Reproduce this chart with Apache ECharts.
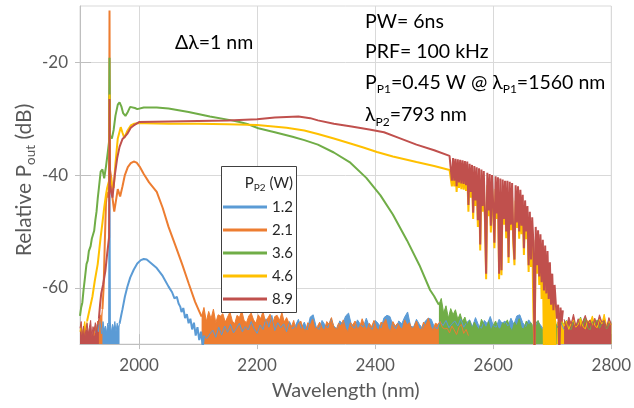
<!DOCTYPE html>
<html><head><meta charset="utf-8">
<script src="https://cdn.jsdelivr.net/npm/echarts@6/dist/echarts.min.js"></script>
<style>html,body{margin:0;padding:0;background:#fff}#c{width:634px;height:408px}</style>
</head><body><div id="c"></div>
<script>
// ---------------- data ----------------
const seriesNames = ['1.2', '2.1', '3.6', '4.6', '8.9'];
const xTicks = [2000, 2200, 2400, 2600, 2800];
const yTicks = [-60, -40, -20];

// P = 1.2 W (blue)
const blueFloorLeftStart = 1927, blueFloorLeftStep = 2;
const blueFloorLeft = [-68.0,-66.5,-67.8,-65.7,-67.0,-68.2,-66.0,-67.5,-66.8,-68.0,-66.3,-67.0,-66.2,-68.0,-66.5,-67.3,-66.0,-67.8,-66.3,-67.1,-66.4];
const blueSpike = [[1949.3,-66.5],[1950,-42],[1950.7,-66.8]];
const blueHump = [[1967,-66.4],[1970,-64.8],[1972,-63.8],[1976,-61.6],[1980,-59.9],[1985,-58.2],[1991,-56.8],[1997,-55.7],[2003,-55.1],[2008,-54.9],[2013,-55.0],[2020,-55.6],[2030,-56.5],[2040,-57.9],[2050,-59.8],[2056,-60.8],[2060,-61.9],[2064,-61.6],[2067,-62.8],[2070,-63.4],[2072,-64.3],[2075,-63.6],[2078,-65.4],[2081,-64.7],[2084,-66.3],[2087,-65.5],[2090,-67.4],[2093,-66.2],[2096,-68.5],[2099,-67.0],[2102,-69.3],[2105,-67.8],[2108,-70.5],[2110,-68.5]];
const blueFloorStart = 2110, blueFloorStep = 5;
const blueFloor = [-68.5,-69.0,-68.2,-67.5,-68.8,-67.0,-68.4,-66.8,-67.9,-66.5,-68.0,-67.2,-66.3,-67.8,-66.9,-67.5,-66.0,-67.3,-68.1,-66.6,-67.4,-65.5,-67.0,-64.9,-67.6,-66.2,-67.1,-66.4,-67.8,-66.0,-67.3,-66.7,-65.6,-67.2,-66.1,-67.5,-65.2,-64.8,-66.9,-67.4,-65.8,-66.6,-67.1,-65.5,-66.8,-67.3,-65.9,-66.4,-65.0,-64.5,-66.7,-67.2,-65.7,-66.5,-67.0,-65.4,-66.9,-67.4,-65.8,-66.3,-67.1,-65.3,-64.9,-65.1,-66.6,-67.3,-65.9,-66.4,-65.2,-64.3,-66.8,-67.0,-65.6,-66.5,-67.2,-65.9,-65.4,-65.6,-66.9,-67.3,-66.0,-66.7,-65.8,-67.1,-66.4,-65.9,-66.8,-65.5,-67.0,-66.2,-65.7,-66.9,-65.3,-66.6,-67.2,-65.8,-66.4,-65.1,-66.7,-67.0,-65.6,-66.3,-65.9,-66.8,-65.4,-66.5,-65.0,-64.8,-66.2,-66.9,-65.7,-66.4,-67.1,-65.9,-66.6,-67.3,-66.0,-66.8,-67.2,-66.5,-67.0,-66.3,-67.4];

// P = 2.1 W (orange)
const orangeFloorLeftStart = 1924, orangeFloorLeftStep = 2;
const orangeFloorLeft = [-68.5,-66.8,-67.5,-65.9,-66.5,-64.8,-65.5,-63.8];
const orangeCurve = [[1938,-63.8],[1940,-60],[1942,-52],[1944,-45],[1946,-43],[1948,-44],[1949.3,-43.5],[1950,-10.8],[1950.7,-39],[1953,-40.5],[1955,-44],[1958,-46.5],[1961,-44.5],[1964,-42.5],[1968,-43.8],[1972,-42],[1976,-40],[1981,-38.6],[1986,-37.9],[1991,-37.6],[1996,-37.8],[2001,-38.5],[2008,-39.8],[2017,-41.3],[2030,-43.0],[2040,-45.8],[2050,-49.2],[2062,-52.6],[2073,-55.8],[2084,-59.2],[2095,-62.5],[2102,-64.2],[2106,-65.1]];
const orangeFloorStart = 2106, orangeFloorStep = 4;
const orangeFloor = [-65.1,-63.5,-66.0,-64.2,-65.5,-63.8,-66.2,-64.8,-65.0,
  -64.6,-66.1,-65.2,-64.3,-65.9,-66.4,-64.9,-65.3,-64.1,-65.8,-66.2,-65.0,-64.5,-65.7,-66.3,-64.8,-65.5,-64.2,-66.0,-65.4,-64.7,-66.5,-65.1,-64.9,-65.8,-64.4,-66.1,-65.3,
  -66.3,-67.0,-65.8,-67.5,-66.4,-65.9,-67.2,-67.7,-66.2,-66.7,-65.6,-67.3,-66.9,-66.1,-67.1,-67.6,-66.0,-66.5,-65.3,-67.0,-67.4,-66.3,-66.8,-65.7,-67.2,-67.8,-66.2,-66.6,-65.9,-67.3,-66.9,-65.5,-66.7,-67.5,-66.3,-66.9,-65.8,-67.1,-67.6,-66.1,-66.4,-65.6,-67.2,-67.7,-66.0,-66.8,-66.3,-67.0,-67.4,-65.7,-66.6,-66.2,-67.3,-66.9,-65.9,-67.2,-67.5,-66.1,-66.7,-65.4,-66.9,-67.6,-66.3,-66.5,-66.0,-67.1,-67.3,
  -67.2,-68.0,-66.8,-67.5,-68.3,-67.0,-66.5,-68.1,-67.4,-68.5];

// P = 3.6 W (green)
const greenCurve = [[1900,-65.0],[1902,-63.5],[1904,-62.6],[1906,-60.4],[1908,-58.6],[1911,-55.8],[1913,-55.2],[1915,-53.5],[1918,-52.6],[1920,-51.3],[1922,-51.0],[1924,-49.9],[1926,-48.0],[1928,-46.5],[1930,-44.2],[1932,-42.3],[1935,-39.4],[1938,-39.0],[1941,-40.6],[1944,-38.5],[1947,-36],[1949.3,-34],[1950,-19.2],[1950.7,-33],[1954,-33.5],[1957,-32],[1960,-29.5],[1964,-27.5],[1967,-27.1],[1970,-27.8],[1973,-29],[1977,-29.5],[1981,-28.8],[1985,-27.9],[1988,-27.7],[1993,-28.1],[1997,-28.3],[2008,-28.0],[2030,-28.0],[2050,-28.2],[2084,-28.8],[2120,-29.6],[2157,-30.3],[2170,-30.6],[2185,-31.0],[2202,-31.7],[2230,-32.4],[2260,-33.2],[2280,-33.8],[2303,-34.6],[2330,-36.0],[2358,-37.8],[2385,-40.5],[2409,-43.6],[2430,-47.0],[2454,-51.6],[2475,-56.0],[2493,-60.4],[2500,-61.5],[2505,-62.5],[2508,-63.0]];
const greenFloorStart = 2508, greenFloorStep = 4;
const greenFloor = [-63.0,-61.9,-64.5,-63.2,-65.4,-63.7,-64.8,-63.9,-65.6,-64.6,-66.0,-65.2,
  -66.6,-65.8,-67.3,-66.1,-66.9,-67.5,-65.6,-66.4,-67.2,-66.0,-67.6,-66.7,-65.9,-67.1,-67.4,-66.2,-66.5,-65.7,-67.0,-67.7,-66.1,-66.8,-65.5,-67.2,-67.3,-65.9,-66.6,-66.2,-67.5,-66.3,-65.8,-67.1,-67.6,-66.0,-66.7,-65.1,-66.4,-65.6,-66.9,-67.3,-66.1,-66.5,-65.8,-67.2,-67.4,-65.9,-66.7,-66.2,-65.2,-66.8,-65.4,-67.1,-67.5,-66.0,-66.6,-65.7,-67.2,-66.3,-65.9,-67.3,-66.5,-66.1];

// P = 4.6 W (yellow)
const yellowFloorLeftStart = 1900, yellowFloorLeftStep = 2;
const yellowFloorLeft = [-67.8,-66.5,-68.3,-67.2,-66.0,-67.5,-65.9];
const yellowCurve = [[1912,-65.9],[1913,-65.7],[1917,-63.5],[1921,-61.6],[1925,-58.8],[1930,-55.8],[1935,-51.0],[1938,-48.5],[1941,-45.8],[1944,-43.5],[1946,-42.3],[1948,-41.5],[1949.3,-41],[1950,-25.7],[1950.7,-40],[1954,-41.5],[1957,-42.3],[1960,-38],[1964,-33.5],[1969,-31.5],[1972,-32.5],[1975,-33.4],[1980,-32.2],[1986,-31.2],[1992,-30.9],[1997,-30.8],[2010,-30.8],[2050,-30.9],[2100,-30.9],[2150,-31.0],[2200,-31.1],[2250,-31.6],[2280,-32.1],[2303,-32.7],[2330,-33.5],[2358,-34.4],[2380,-35.1],[2403,-35.9],[2430,-36.7],[2470,-37.7],[2500,-38.4],[2526,-39.1]];
const yellowRippleStart = 2528, yellowRippleStep = 2;
const yellowRipple = [-39.0,-42.0,-39.1,-42.0,-39.2,-43.0,-39.3,-42.3,-39.4,-42.5,-39.5,-42.6,-39.6,-42.8,-39.8,-46.5,-40.0,-44.0,-40.3,-47.8,-40.5,-45.5,-40.7,-49.2,-41.0,-53.4,-41.2,-46.5,-41.5,-48.2,-58.5,-41.8,-47.3,-42.0,-50.2,-42.2,-46.5,-53.0,-42.5,-47.8,-42.7,-58.5,-43.0,-57.8,-43.2,-48.8,-43.4,-51.2,-43.5,-55.6,-43.7,-49.8,-44.0,-52.2,-56.0,-44.5,-49.4,-44.8,-51.3,-45.3,-50.5,-46.0,-54.2,-47.0,-51.4,-48.0,-57.2,-49.0,-56.3,-50.0,-64.0,-72,-51.5,-57.5,-52.2,-59.5,-53.0,-62.0,-54.0,-72,-55.0,-72,-56.5,-72,-58.5,-72,-60.5,-72,-62.5,-72];
const yellowFloorStart = 2708, yellowFloorStep = 4;
const yellowFloor = [-66.0,-67.2,-65.5,-66.8,-65.9,-67.4,-66.3,-65.7,-67.0,-66.5,-65.4,-66.9,-67.3,-65.8,-66.2,-65.0,-66.7,-67.1,-65.6,-66.4,-64.7,-66.8,-65.9,-66.6];

// P = 8.9 W (red)
const redFloorLeftStart = 1900, redFloorLeftStep = 2;
const redFloorLeft = [-67.2,-66.0,-68.5,-66.8,-69.0,-67.5,-66.3,-68.2,-67.0,-65.8,-68.7,-66.9,-67.6,-66.2,-68.0,-66.5,-65.5];
const redCurve = [[1932,-65.5],[1934,-63.0],[1936,-61.0],[1939,-59.5],[1943,-57],[1946,-54],[1949.3,-51],[1950,-26.5],[1950.7,-42],[1953,-43],[1955,-44],[1959,-40],[1963,-37],[1967,-35],[1972,-33.6],[1976,-33.2],[1980,-32.7],[1986,-31.6],[1991,-31.2],[2000,-30.6],[2050,-30.5],[2100,-30.4],[2150,-30.3],[2200,-30.1],[2230,-29.8],[2250,-29.7],[2270,-29.6],[2290,-29.9],[2303,-30.3],[2330,-30.9],[2360,-31.4],[2390,-31.9],[2415,-32.4],[2440,-33.4],[2470,-34.6],[2500,-35.6],[2526,-36.6]];
const redRippleStart = 2528, redRippleStep = 2;
const redRipple = [-36.9,-41.0,-37.0,-41.0,-37.1,-42.0,-37.2,-41.3,-37.3,-41.5,-37.4,-41.6,-37.5,-41.8,-37.6,-45.3,-38.0,-43.0,-38.2,-46.7,-38.4,-44.5,-38.6,-48.0,-38.8,-52.3,-39.0,-45.5,-39.3,-47.0,-57.5,-39.6,-46.3,-39.8,-49.0,-40.0,-45.5,-52.0,-40.2,-46.8,-40.4,-57.5,-40.6,-56.9,-40.8,-47.8,-41.0,-50.0,-41.0,-54.6,-41.2,-48.8,-41.4,-51.0,-55.0,-41.8,-48.4,-42.0,-50.0,-42.6,-49.0,-43.5,-53.0,-44.5,-50.0,-45.5,-56.0,-46.5,-55.0,-47.5,-52.0,-72,-49.2,-56.0,-49.8,-58.0,-50.5,-59.0,-51.5,-60.5,-52.5,-61.0,-53.5,-62.0,-55.5,-63.0,-57.5,-64.0,-59.5,-62.8,-65.5,-63.0,-72,-63.5,-66.0,-64.0];
const redFloorStart = 2720, redFloorStep = 4;
const redFloor = [-65.6,-67.0,-65.2,-66.4,-64.7,-66.8,-65.5,-67.2,-65.9,-64.9,-66.3,-65.7,-67.0,-65.4,-66.6,-64.8,-66.1,-65.8,-67.1,-65.3,-66.5];

// ---------------- build ----------------
const colors = ['#5B9BD5', '#ED7D31', '#70AD47', '#FFC000', '#C0504D'];
const FONT = 'Lato, "Open Sans", "DejaVu Sans", sans-serif';
function sampled(start, step, values) { return values.map((v, i) => [start + i * step, v]); }
function line(idx, data, w) {
  return { name: seriesNames[idx], type: 'line', data: data, showSymbol: false, symbol: 'none',
    lineStyle: { color: colors[idx], width: w || 2 }, itemStyle: { color: colors[idx] },
    animation: false, silent: true, clip: true };
}
function floor(idx, data) {
  const s = line(idx, data, 1);
  s.areaStyle = { color: colors[idx], opacity: 1, origin: 'start' };
  return s;
}
const series = [
  floor(0, sampled(blueFloorLeftStart, blueFloorLeftStep, blueFloorLeft)),
  line(0, blueSpike), line(0, blueHump),
  floor(0, sampled(blueFloorStart, blueFloorStep, blueFloor)),
  floor(1, sampled(orangeFloorLeftStart, orangeFloorLeftStep, orangeFloorLeft)),
  line(1, orangeCurve),
  floor(1, sampled(orangeFloorStart, orangeFloorStep, orangeFloor)),
  line(2, greenCurve),
  floor(2, sampled(greenFloorStart, greenFloorStep, greenFloor)),
  floor(3, sampled(yellowFloorLeftStart, yellowFloorLeftStep, yellowFloorLeft)),
  line(3, yellowCurve.concat(sampled(yellowRippleStart, yellowRippleStep, yellowRipple)), 2),
  floor(3, sampled(yellowFloorStart, yellowFloorStep, yellowFloor)),
  floor(4, sampled(redFloorLeftStart, redFloorLeftStep, redFloorLeft)),
  line(4, redCurve.concat(sampled(redRippleStart, redRippleStep, redRipple)), 2),
  floor(4, sampled(redFloorStart, redFloorStep, redFloor))
];

function txt(x, y, text) {
  return { type: 'text', x: x, y: y, z: 6, silent: true, style: {
    text: text, verticalAlign: 'middle', align: 'left',
    rich: {
      m: { fontSize: 19.5, fontFamily: FONT, fill: '#000', lineHeight: 26 },
      s: { fontSize: 12, fontFamily: FONT, fill: '#000', lineHeight: 12, verticalAlign: 'bottom' }
    } } };
}

const chart = echarts.init(document.getElementById('c'), null, { renderer: 'canvas' });
chart.setOption({
  animation: false,
  backgroundColor: '#fff',
  grid: { left: 80, right: 18, top: 6, bottom: 61, show: true, borderColor: '#d9d9d9', borderWidth: 1, containLabel: false },
  xAxis: [{
    type: 'value', min: 1900, max: 2800, position: 'bottom',
    name: 'Wavelength (nm)', nameLocation: 'middle', nameGap: 30,
    nameTextStyle: { fontSize: 20, fontFamily: FONT, color: '#595959', lineHeight: 24 },
    axisLine: { show: true, lineStyle: { color: '#bfbfbf', width: 1 } },
    axisTick: { show: true, inside: true, length: 10, customValues: xTicks, lineStyle: { color: '#bfbfbf' } },
    axisLabel: { customValues: xTicks, formatter: v => String(v), fontSize: 17, fontFamily: FONT, color: '#595959', margin: 13 },
    splitLine: { show: true, lineStyle: { color: '#d9d9d9', width: 1 } }
  }, {
    type: 'value', min: 1900, max: 2800, position: 'bottom', offset: 0,
    axisLine: { show: false }, axisLabel: { show: false }, splitLine: { show: false },
    axisTick: { show: true, inside: false, length: 5, customValues: xTicks, lineStyle: { color: '#bfbfbf' } }
  }],
  yAxis: [{
    type: 'value', min: -70, max: -10, position: 'left',
    axisLine: { show: true, lineStyle: { color: '#bfbfbf', width: 1 } },
    axisTick: { show: true, inside: true, length: 11, customValues: yTicks, lineStyle: { color: '#bfbfbf' } },
    axisLabel: { customValues: yTicks, formatter: v => String(v), fontSize: 17, fontFamily: FONT, color: '#595959', margin: 12 },
    splitLine: { show: true, lineStyle: { color: '#d9d9d9', width: 1 } }
  }, {
    type: 'value', min: -70, max: -10, position: 'left', offset: 0,
    axisLine: { show: false }, axisLabel: { show: false }, splitLine: { show: false },
    axisTick: { show: true, inside: false, length: 5, customValues: yTicks, lineStyle: { color: '#bfbfbf' } }
  }],
  legend: {
    data: seriesNames.map(n => ({ name: n, icon: 'rect' })),
    orient: 'vertical', left: 223, top: 198, padding: 0, itemGap: 5,
    itemWidth: 44, itemHeight: 3, z: 5, selectedMode: false,
    textStyle: { fontSize: 15, fontFamily: FONT, color: '#262626', lineHeight: 18 }
  },
  graphic: [
    { type: 'rect', z: 4, silent: true, shape: { x: 221.5, y: 166.5, width: 75, height: 146 },
      style: { fill: '#fff', stroke: '#404040', lineWidth: 1 } },
    { type: 'text', x: 293, y: 183, z: 6, silent: true, style: {
      text: '{m|P}{s|P2}{m| (W)}', align: 'right', verticalAlign: 'middle',
      rich: { m: { fontSize: 15, fontFamily: FONT, fill: '#262626', lineHeight: 20 },
              s: { fontSize: 10, fontFamily: FONT, fill: '#262626', lineHeight: 10, verticalAlign: 'bottom' } } } },
    { type: 'text', x: 24, y: 180, rotation: Math.PI / 2, z: 6, silent: true, style: {
      text: '{a|Relative P}{s|out}{a| (dB)}', align: 'center', verticalAlign: 'middle',
      rich: { a: { fontSize: 21, fontFamily: FONT, fill: '#595959', lineHeight: 28 },
              s: { fontSize: 13.5, fontFamily: FONT, fill: '#595959', lineHeight: 13, verticalAlign: 'bottom' } } } },
    txt(175, 42.5, '{m|Δλ=1 nm}'),
    txt(365, 21.7, '{m|PW= 6ns}'),
    txt(365, 51.7, '{m|PRF= 100 kHz}'),
    txt(365, 82.5, '{m|P}{s|P1}{m|=0.45 W @ λ}{s|P1}{m|=1560 nm}'),
    txt(365, 115, '{m|λ}{s|P2}{m|=793 nm}')
  ],
  series: series
});
</script>
</body></html>
